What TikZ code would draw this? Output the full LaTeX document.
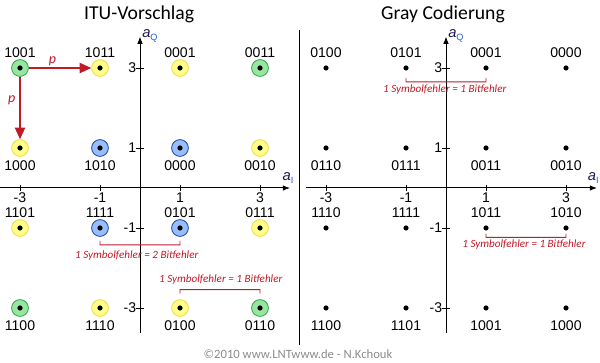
\documentclass[tikz,border=0pt]{standalone}
\usepackage{fontspec}
\setmainfont{Liberation Sans}
\newfontfamily\calib{Carlito}
\usetikzlibrary{arrows.meta,positioning}
\definecolor{grnfill}{RGB}{150,230,160}
\definecolor{grnline}{RGB}{50,165,80}
\definecolor{ylwfill}{RGB}{255,252,140}
\definecolor{ylwline}{RGB}{238,222,70}
\definecolor{blufill}{RGB}{150,190,248}
\definecolor{bluline}{RGB}{40,70,170}
\definecolor{errred}{RGB}{192,25,40}
\definecolor{axdark}{RGB}{25,25,80}
\definecolor{axsub}{RGB}{30,90,210}

\begin{document}
\begin{tikzpicture}[>=Latex,
  pt/.style={circle,draw,line width=.6pt,minimum size=4.2mm,inner sep=0pt,
    path picture={\fill[black] (path picture bounding box.center) circle (.065);}},
  gpt/.style={pt,fill=grnfill,draw=grnline},
  ypt/.style={pt,fill=ylwfill,draw=ylwline},
  bpt/.style={pt,fill=blufill,draw=bluline},
  dot/.style={circle,fill=black,minimum size=1.3mm,inner sep=0pt},
  bits/.style={font=\fontsize{10}{12}\selectfont,inner sep=0pt},
  tlbl/.style={font=\fontsize{10}{12}\selectfont,inner sep=0pt},
  ttl/.style={font=\calib\fontsize{14}{16}\selectfont,anchor=base},
  axis/.style={line width=.7pt,-{Latex[length=1.8mm,width=1.4mm]}},
  axl/.style={font=\fontsize{10.5}{12}\selectfont,text=axdark,inner sep=0pt,anchor=base west},
  parr/.style={line width=.8pt,draw=errred,-{Triangle[length=2.9mm,width=2.6mm]}},
  plbl/.style={font=\calib\itshape\fontsize{10}{12}\selectfont,text=errred,inner sep=0pt},
  brk/.style={line width=.7pt,draw=errred},
  errlbl/.style={font=\calib\itshape\fontsize{7.9}{9}\selectfont,text=errred,inner sep=0pt}]
\useasboundingbox (0,0) rectangle (15,9.075);

% titles
\node[ttl] (t1) at (3.48,8.58) {ITU-Vorschlag};
\node[ttl] (t2) at (11.075,8.58) {Gray Codierung};
\draw[line width=.7pt] (7.475,0.45) -- (7.475,8.33);

% axes, left
\draw[axis] (0,4.375) -- (7.25,4.375);
\draw[axis] (3.5,0.75) -- (3.5,8.16);
\foreach \v/\n in {-3/a,-1/b,1/c,3/d} {
  \draw[line width=.6pt] (3.5+\v,4.29) -- (3.5+\v,4.46);
  \node[tlbl] (lx\n) at (3.5+\v,4.125) {\v};
  \draw[line width=.6pt] (3.41,4.375+\v) -- (3.59,4.375+\v);
  \node[tlbl,anchor=east] (ly\n) at (3.41,4.375+\v) {\v};
}
\node[axl] (aq1) at (3.55,8.14) {\textit{a}\raisebox{-.4ex}{\fontsize{6.5}{7}\selectfont\color{axsub}Q}};
\node[axl] (ai1) at (7.06,4.56) {\textit{a}\raisebox{-.4ex}{\fontsize{6.5}{7}\selectfont\color{axsub}I}};

% axes, right
\draw[axis] (7.65,4.375) -- (14.925,4.375);
\draw[axis] (11.15,0.75) -- (11.15,8.16);
\foreach \v/\n in {-3/a,-1/b,1/c,3/d} {
  \draw[line width=.6pt] (11.15+\v,4.29) -- (11.15+\v,4.46);
  \node[tlbl] (rx\n) at (11.15+\v,4.125) {\v};
  \draw[line width=.6pt] (11.06,4.375+\v) -- (11.24,4.375+\v);
  \node[tlbl,anchor=east] (ry\n) at (11.06,4.375+\v) {\v};
}
\node[axl] (aq2) at (11.2,8.14) {\textit{a}\raisebox{-.4ex}{\fontsize{6.5}{7}\selectfont\color{axsub}Q}};
\node[axl] (ai2) at (14.69,4.56) {\textit{a}\raisebox{-.4ex}{\fontsize{6.5}{7}\selectfont\color{axsub}I}};

% ITU constellation
\node[gpt] (l1001) at (0.5,7.375) {};  \node[bits,above=.4mm of l1001] (tl1001) {1001};
\node[ypt] (l1011) at (2.5,7.375) {};  \node[bits,above=.4mm of l1011] (tl1011) {1011};
\node[ypt] (l0001) at (4.5,7.375) {};  \node[bits,above=.4mm of l0001] (tl0001) {0001};
\node[gpt] (l0011) at (6.5,7.375) {};  \node[bits,above=.4mm of l0011] (tl0011) {0011};
\node[ypt] (l1000) at (0.5,5.375) {};  \node[bits,below=.9mm of l1000] (tl1000) {1000};
\node[bpt] (l1010) at (2.5,5.375) {};  \node[bits,below=.9mm of l1010] (tl1010) {1010};
\node[bpt] (l0000) at (4.5,5.375) {};  \node[bits,below=.9mm of l0000] (tl0000) {0000};
\node[ypt] (l0010) at (6.5,5.375) {};  \node[bits,below=.9mm of l0010] (tl0010) {0010};
\node[ypt] (l1101) at (0.5,3.375) {};  \node[bits,above=.4mm of l1101] (tl1101) {1101};
\node[bpt] (l1111) at (2.5,3.375) {};  \node[bits,above=.4mm of l1111] (tl1111) {1111};
\node[bpt] (l0101) at (4.5,3.375) {};  \node[bits,above=.4mm of l0101] (tl0101) {0101};
\node[ypt] (l0111) at (6.5,3.375) {};  \node[bits,above=.4mm of l0111] (tl0111) {0111};
\node[gpt] (l1100) at (0.5,1.375) {};  \node[bits,below=.9mm of l1100] (tl1100) {1100};
\node[ypt] (l1110) at (2.5,1.375) {};  \node[bits,below=.9mm of l1110] (tl1110) {1110};
\node[ypt] (l0100) at (4.5,1.375) {};  \node[bits,below=.9mm of l0100] (tl0100) {0100};
\node[gpt] (l0110) at (6.5,1.375) {};  \node[bits,below=.9mm of l0110] (tl0110) {0110};

\draw[parr] (l1001) -- node[plbl,pos=.38,above=.3mm] (p1) {p} (l1011);
\draw[parr] (l1001) -- node[plbl,pos=.38,left=1mm] (p2) {p} (l1000);

\draw[brk] ([yshift=-3.2mm]l1111.center) -- ++(0,-1.05mm)
  -- node[errlbl,yshift=-2.6mm,xshift=-.8mm] (e1) {1 Symbolfehler = 2 Bitfehler}
  ([yshift=-4.25mm]l0101.center) -- ++(0,1.05mm);
\draw[brk] ([yshift=3.6mm]l0100.center) -- ++(0,1mm)
  -- node[errlbl,yshift=2.5mm,xshift=.2mm] (e2) {1 Symbolfehler = 1 Bitfehler}
  ([yshift=4.6mm]l0110.center) -- ++(0,-1mm);

% Gray constellation
\node[dot] (r0100) at (8.15,7.375) {};  \node[bits,above=1.8mm of r0100] (tr0100) {0100};
\node[dot] (r0101) at (10.15,7.375) {}; \node[bits,above=1.8mm of r0101] (tr0101) {0101};
\node[dot] (r0001) at (12.15,7.375) {}; \node[bits,above=1.8mm of r0001] (tr0001) {0001};
\node[dot] (r0000) at (14.15,7.375) {}; \node[bits,above=1.8mm of r0000] (tr0000) {0000};
\node[dot] (r0110) at (8.15,5.375) {};  \node[bits,below=2.3mm of r0110] (tr0110) {0110};
\node[dot] (r0111) at (10.15,5.375) {}; \node[bits,below=2.3mm of r0111] (tr0111) {0111};
\node[dot] (r0011) at (12.15,5.375) {}; \node[bits,below=2.3mm of r0011] (tr0011) {0011};
\node[dot] (r0010) at (14.15,5.375) {}; \node[bits,below=2.3mm of r0010] (tr0010) {0010};
\node[dot] (r1110) at (8.15,3.375) {};  \node[bits,above=1.8mm of r1110] (tr1110) {1110};
\node[dot] (r1111) at (10.15,3.375) {}; \node[bits,above=1.8mm of r1111] (tr1111) {1111};
\node[dot] (r1011) at (12.15,3.375) {}; \node[bits,above=1.8mm of r1011] (tr1011) {1011};
\node[dot] (r1010) at (14.15,3.375) {}; \node[bits,above=1.8mm of r1010] (tr1010) {1010};
\node[dot] (r1100) at (8.15,1.375) {};  \node[bits,below=2.3mm of r1100] (tr1100) {1100};
\node[dot] (r1101) at (10.15,1.375) {}; \node[bits,below=2.3mm of r1101] (tr1101) {1101};
\node[dot] (r1001) at (12.15,1.375) {}; \node[bits,below=2.3mm of r1001] (tr1001) {1001};
\node[dot] (r1000) at (14.15,1.375) {}; \node[bits,below=2.3mm of r1000] (tr1000) {1000};

\draw[brk] ([yshift=-2.5mm]r0101.center) -- ++(0,-1mm)
  -- node[errlbl,yshift=-2mm,xshift=-.3mm] (e3) {1 Symbolfehler = 1 Bitfehler}
  ([yshift=-3.5mm]r0001.center) -- ++(0,1mm);
\draw[brk] ([yshift=-1.5mm]r1011.center) -- ++(0,-.85mm)
  -- node[errlbl,yshift=-1.9mm,xshift=-.5mm] (e4) {1 Symbolfehler = 1 Bitfehler}
  ([yshift=-2.35mm]r1010.center) -- ++(0,.85mm);

\node[font=\calib\fontsize{9}{10}\selectfont,text=black!45,anchor=base] (cpr) at (7.45,0.11) {©2010 www.LNTwww.de - N.Kchouk};
\end{tikzpicture}
\end{document}
